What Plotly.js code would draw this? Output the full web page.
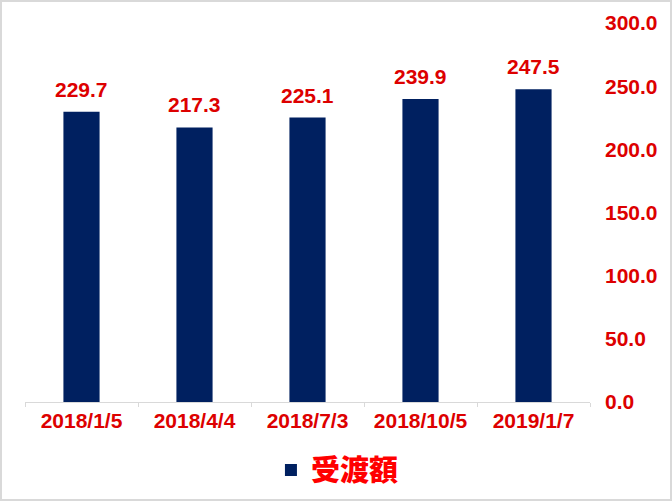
<!DOCTYPE html>
<html>
<head>
<meta charset="utf-8">
<script src="https://cdn.plot.ly/plotly-3.0.1.min.js"></script>
<style>
html,body{margin:0;padding:0;background:#fff;}
#chart{width:672px;height:501px;box-sizing:border-box;border:2px solid #d9d9d9;}
</style>
</head>
<body>
<div id="chart"></div>
<script>
const categories = ["2018/1/5", "2018/4/4", "2018/7/3", "2018/10/5", "2019/1/7"];
const values = [229.7, 217.3, 225.1, 239.9, 247.5];
const seriesName = "受渡額";
const yTickValues = [0, 50, 100, 150, 200, 250, 300];

const numFont = {family: "Liberation Sans, Arial, sans-serif", size: 21, color: "#dd0000", weight: "bold"};

const trace = {
  type: "bar",
  x: categories,
  y: values,
  name: seriesName,
  marker: {color: "#002060"},
  showlegend: true,
  hoverinfo: "x+y"
};

const annotations = categories.map((c, i) => ({
  x: c,
  y: values[i],
  xref: "x",
  yref: "y",
  text: values[i].toFixed(1),
  showarrow: false,
  yanchor: "bottom",
  yshift: 9,
  font: numFont
}));

const layout = {
  width: 668,
  height: 497,
  margin: {l: 22.5, r: 79.5, t: 21, b: 97, autoexpand: false},
  paper_bgcolor: "#ffffff",
  plot_bgcolor: "#ffffff",
  bargap: 0.68,
  showlegend: true,
  legend: {
    orientation: "h",
    x: 0.553,
    xanchor: "center",
    y: -0.18,
    yanchor: "middle",
    font: {family: "Noto Sans CJK JP, sans-serif", size: 29, color: "#ff0000", weight: 900}
  },
  xaxis: {
    type: "category",
    showline: true,
    linecolor: "#d9d9d9",
    linewidth: 1,
    ticks: "outside",
    tickson: "boundaries",
    ticklen: 4,
    tickcolor: "#d9d9d9",
    showgrid: false,
    tickfont: numFont,
    fixedrange: true
  },
  yaxis: {
    side: "right",
    range: [0, 300],
    tickvals: yTickValues,
    tickformat: ".1f",
    showgrid: false,
    zeroline: false,
    showline: false,
    ticks: "",
    ticklabelstandoff: 14,
    tickfont: numFont,
    fixedrange: true
  },
  annotations: annotations
};

Plotly.newPlot("chart", [trace], layout, {displayModeBar: false, staticPlot: true});
</script>
</body>
</html>
